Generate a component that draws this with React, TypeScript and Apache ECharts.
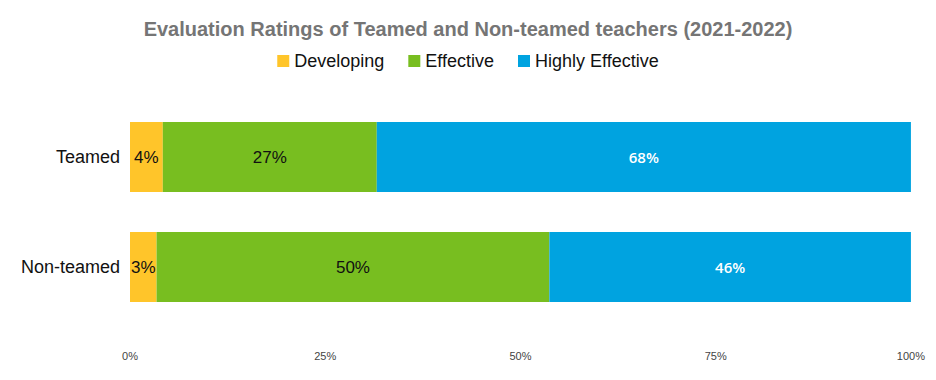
import React, { useEffect, useRef } from "react";
import * as echarts from "echarts";

const categories = ["Teamed", "Non-teamed"];
const developing = [4.2, 3.4];
const effective = [27.4, 50.3];
const highlyEffective = [68.4, 46.3];
const xTicks = [0, 25, 50, 75, 100];

export default function App() {
  const ref = useRef<HTMLDivElement>(null);
  useEffect(() => {
    const chart = echarts.init(ref.current!, null, { renderer: "svg" });
    const blackLabel = {
      show: true,
      position: "inside",
      color: "#111",
      fontSize: 17,
      fontFamily: "Liberation Sans, Arial, sans-serif",
      formatter: (p: any) => Math.round(p.value) + "%",
    };
    chart.setOption({
      animation: false,
      title: {
        text: "Evaluation Ratings of Teamed and Non-teamed teachers (2021-2022)",
        left: "center",
        top: 6,
        textStyle: {
          fontSize: 20,
          fontWeight: "bold",
          color: "#757575",
          fontFamily: "Liberation Sans, Arial, sans-serif",
        },
      },
      legend: {
        top: 39,
        left: "center",
        itemWidth: 12,
        itemHeight: 12,
        itemGap: 24,
        icon: "rect",
        textStyle: {
          fontSize: 18,
          color: "#111",
          fontFamily: "Liberation Sans, Arial, sans-serif",
        },
        data: ["Developing", "Effective", "Highly Effective"],
      },
      grid: { left: 122, right: 12, top: 94, bottom: 50 },
      xAxis: {
        type: "value",
        min: xTicks[0],
        max: xTicks[xTicks.length - 1],
        interval: 25,
        splitLine: { show: false },
        axisLine: { show: false },
        axisTick: { show: false },
        axisLabel: {
          formatter: (v: number) => v + "%",
          fontSize: 11,
          color: "#444",
          margin: 28,
          fontFamily: "Liberation Sans Narrow, Liberation Sans, Arial, sans-serif",
        },
      },
      yAxis: {
        type: "category",
        data: categories,
        inverse: true,
        axisLine: { show: false },
        axisTick: { show: false },
        axisLabel: {
          fontSize: 18,
          color: "#111",
          margin: 10,
          fontFamily: "Liberation Sans, Arial, sans-serif",
        },
      },
      series: [
        {
          name: "Developing",
          type: "bar",
          stack: "total",
          barWidth: 70,
          data: developing,
          itemStyle: { color: "#FFC52A" },
          label: blackLabel,
        },
        {
          name: "Effective",
          type: "bar",
          stack: "total",
          barWidth: 70,
          data: effective,
          itemStyle: { color: "#78BE20" },
          label: blackLabel,
        },
        {
          name: "Highly Effective",
          type: "bar",
          stack: "total",
          barWidth: 70,
          data: highlyEffective,
          itemStyle: { color: "#00A3E0" },
          label: {
            show: true,
            position: "inside",
            color: "#fff",
            fontSize: 15,
            fontWeight: 600,
            fontFamily: "Open Sans, sans-serif",
            formatter: (p: any) => Math.round(p.value) + "%",
          },
        },
      ],
    });
    return () => chart.dispose();
  }, []);
  return <div ref={ref} style={{ width: 920, height: 364 }} />;
}
